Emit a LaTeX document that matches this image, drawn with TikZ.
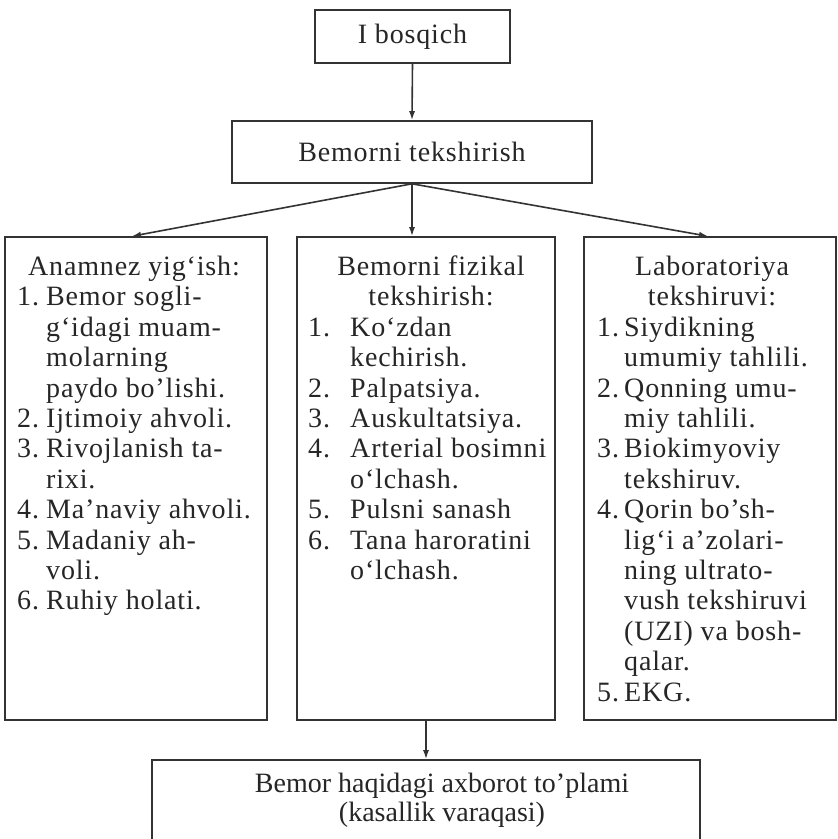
\documentclass[tikz,border=0pt]{standalone}
\usepackage{fontspec}
\setmainfont{Liberation Serif}
\newfontfamily\spacedfont[LetterSpace=3]{Liberation Serif}
\usetikzlibrary{arrows.meta}
\begin{document}
\begin{tikzpicture}[x=1pt,y=-1pt,
  frame/.style={draw=black!80, line width=1.6pt, inner sep=0pt, text=black!85,
    font=\spacedfont\fontsize{28}{30.3}\selectfont},
  arr/.style={draw=black!80, line width=1.6pt, -{Latex[length=9pt,width=6pt]}},
  txt/.style={inner sep=0pt, text=black!85, font=\spacedfont\fontsize{28}{30.4}\selectfont, anchor=north west}]
\useasboundingbox[fill=white] (0,0) rectangle (838,839);
% top boxes
\node[frame, minimum width=195pt, minimum height=53pt] (b1) at (412.5,36.5) {I bosqich};
\node[frame, minimum width=360pt, minimum height=62pt] (b2) at (412,152) {Bemorni tekshirish};
% three panels
\node[frame, minimum width=262pt, minimum height=483pt] (anam) at (136,478.5) {};
\node[frame, minimum width=258pt, minimum height=483pt] (fiz) at (426,478.5) {};
\node[frame, minimum width=252pt, minimum height=483pt] (lab) at (710,478.5) {};
% bottom box
\node[frame, minimum width=548pt, minimum height=110pt] (res) at (426,815) {};
% texts
\node[txt] (anamT) at (17,254) {\begin{tabular}{@{}p{29pt}@{}l@{}}
\multicolumn{2}{@{}c@{}}{Anamnez yig‘ish:}\\
1. & Bemor sogli-\\
   & g‘idagi muam-\\
   & molarning\\
   & paydo bo’lishi.\\
2. & Ijtimoiy ahvoli.\\
3. & Rivojlanish ta-\\
   & rixi.\\
4. & Ma’naviy ahvoli.\\
5. & Madaniy ah-\\
   & voli.\\
6. & Ruhiy holati.
\end{tabular}};
\node[txt, anchor=north] (fizH) at (431,254) {\begin{tabular}{@{}c@{}}Bemorni fizikal\\ tekshirish:\end{tabular}};
\node[txt] (fizT) at (308,314.8) {\begin{tabular}{@{}p{42pt}@{}l@{}}
1. & Ko‘zdan\\
   & kechirish.\\
2. & Palpatsiya.\\
3. & Auskultatsiya.\\
4. & Arterial bosimni\\
   & o‘lchash.\\
5. & Pulsni sanash\\
6. & Tana haroratini\\
   & o‘lchash.
\end{tabular}};
\node[txt, anchor=north] (labH) at (712,254) {\begin{tabular}{@{}c@{}}Laboratoriya\\ tekshiruvi:\end{tabular}};
\node[txt] (labT) at (597,314.8) {\begin{tabular}{@{}p{27pt}@{}l@{}}
1. & Siydikning\\
   & umumiy tahlili.\\
2. & Qonning umu-\\
   & miy tahlili.\\
3. & Biokimyoviy\\
   & tekshiruv.\\
4. & Qorin bo’sh-\\
   & lig‘i a’zolari-\\
   & ning ultrato-\\
   & vush tekshiruvi\\
   & (UZI) va bosh-\\
   & qalar.\\
5. & EKG.
\end{tabular}};
\node[txt, anchor=north, font=\fontsize{28}{29}\selectfont] (resT) at (442,772) {\begin{tabular}{@{}c@{}}Bemor haqidagi axborot to’plami\\ (kasallik varaqasi)\end{tabular}};
% connectors
\draw[arr] (b1.south) -- (b2.north);
\draw[arr] (b2.south) -- ([xshift=-4pt]anam.north);
\draw[arr] (b2.south) -- (b2.south |- fiz.north);
\draw[arr] (b2.south) -- ([xshift=-2pt]lab.north);
\draw[arr] (fiz.south) -- (fiz.south |- res.north);
\end{tikzpicture}
\end{document}
